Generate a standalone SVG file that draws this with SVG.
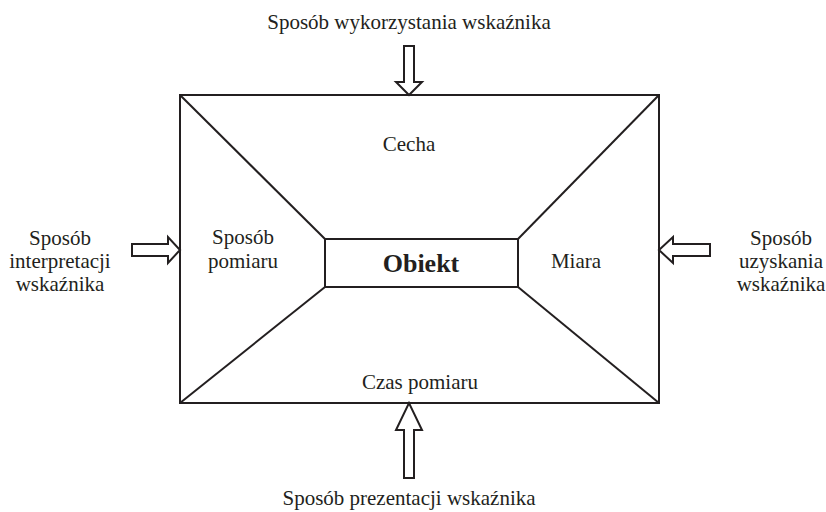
<svg xmlns="http://www.w3.org/2000/svg" width="826" height="512" viewBox="0 0 826 512">
<style>
text{font-family:"Liberation Serif","Times New Roman",serif;font-size:21px;fill:#231f20;text-anchor:middle}
.b{font-weight:bold;font-size:26px}
.ln{stroke:#231f20;stroke-width:2;fill:none}
.ar{stroke:#231f20;stroke-width:2;fill:#fff;stroke-linejoin:miter}
</style>
<rect width="826" height="512" fill="#fff"/>
<g id="frame">
<rect class="ln" x="180" y="95" width="479" height="308"/>
</g>
<g id="connectors">
<line class="ln" x1="180" y1="95" x2="325" y2="239"/>
<line class="ln" x1="659" y1="95" x2="518" y2="239"/>
<line class="ln" x1="180" y1="403" x2="325" y2="287"/>
<line class="ln" x1="659" y1="403" x2="518" y2="287"/>
<polygon class="ar" points="404,46 414,46 414,82 422,82 409,95 396,82 404,82"/>
<polygon class="ar" points="404,478 414,478 414,430 422,430 409,403 396,430 404,430"/>
<polygon class="ar" points="132,244 168,244 168,237 180,250 168,263 168,256 132,256"/>
<polygon class="ar" points="710,244 673,244 673,237 659,250 673,263 673,256 710,256"/>
</g>
<g id="obiekt">
<rect class="ln" x="325" y="239" width="193" height="48"/>
<text class="b" x="421" y="272">Obiekt</text>
</g>
<g id="cecha"><text x="409" y="151">Cecha</text></g>
<g id="sposob-pomiaru"><text x="243" y="244">Sposób</text><text x="243" y="268">pomiaru</text></g>
<g id="miara"><text x="576" y="268">Miara</text></g>
<g id="czas-pomiaru"><text x="420" y="389">Czas pomiaru</text></g>
<g id="top-label"><text x="409" y="29">Sposób wykorzystania wskaźnika</text></g>
<g id="bottom-label"><text x="409" y="505">Sposób prezentacji wskaźnika</text></g>
<g id="left-label"><text x="60" y="245">Sposób</text><text x="60" y="268">interpretacji</text><text x="60" y="291">wskaźnika</text></g>
<g id="right-label"><text x="781" y="245">Sposób</text><text x="781" y="268">uzyskania</text><text x="781" y="291">wskaźnika</text></g>
</svg>
